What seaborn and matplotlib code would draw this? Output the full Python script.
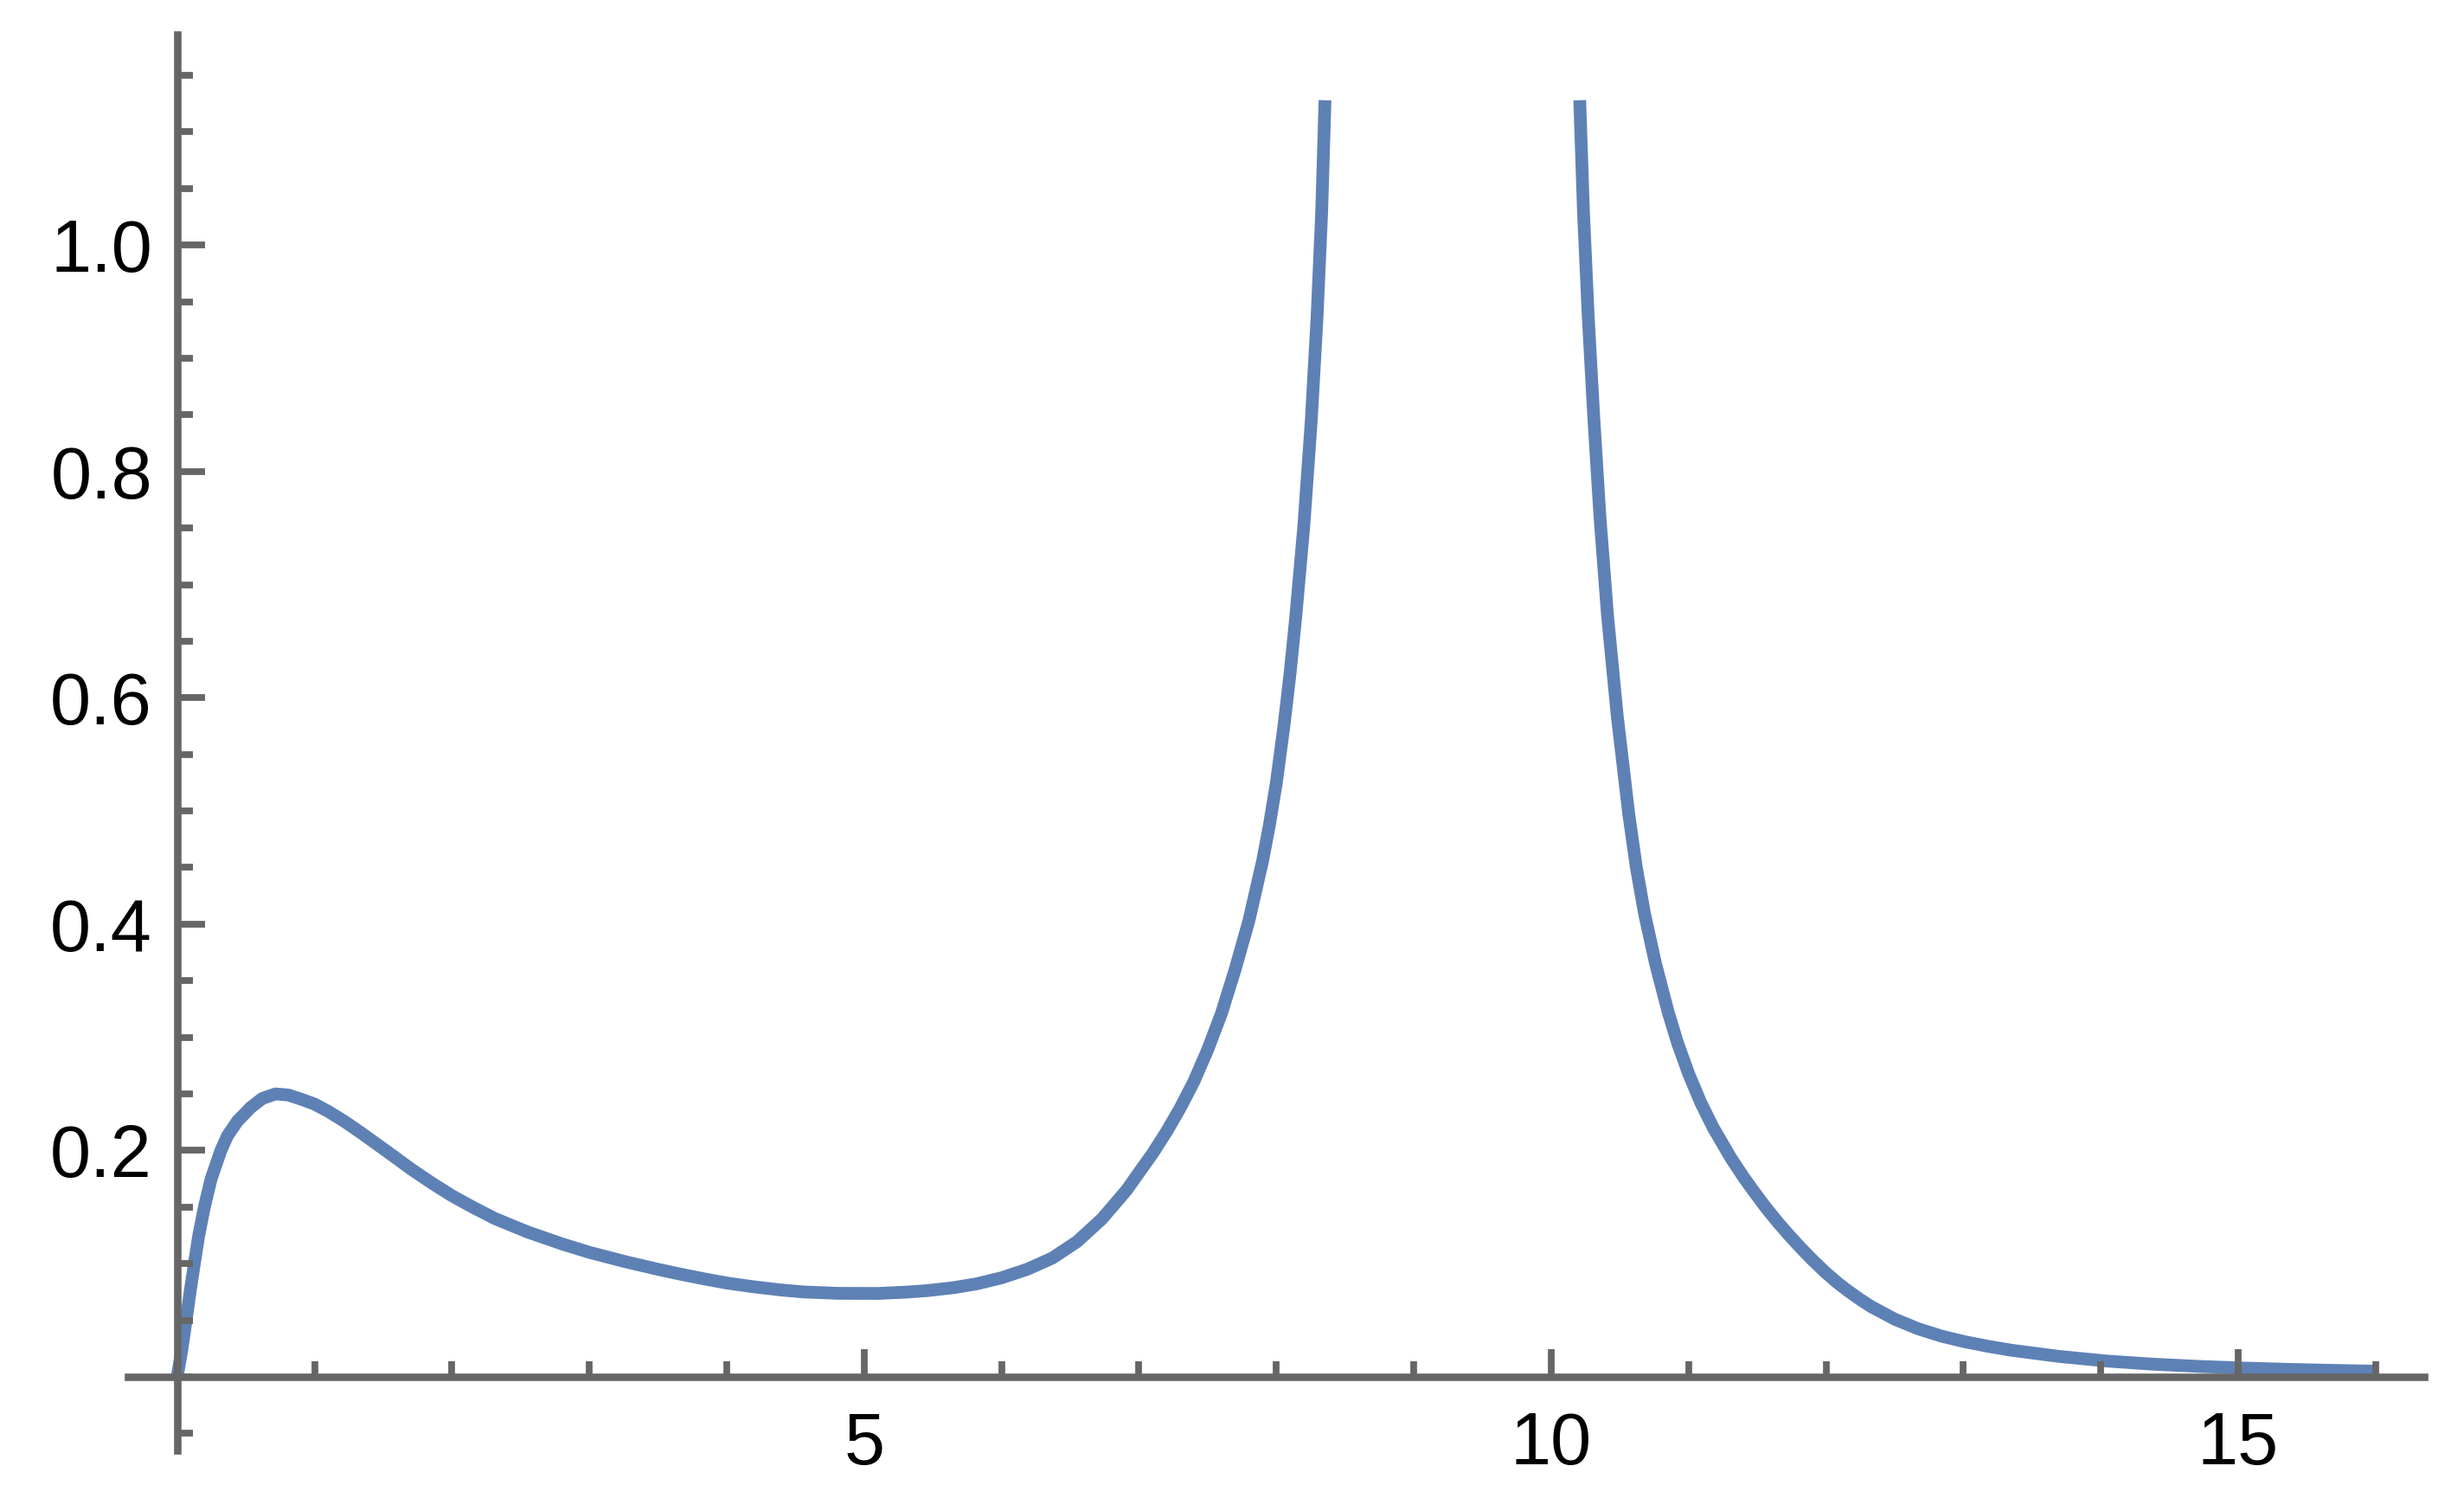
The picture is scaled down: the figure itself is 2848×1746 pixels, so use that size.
"""Resonance-style response curve, Mathematica look, drawn with seaborn."""
import matplotlib
matplotlib.use("Agg")  # non-interactive backend
import matplotlib.pyplot as plt
import pandas as pd
import seaborn as sns
from matplotlib.ticker import FixedLocator, MultipleLocator

# values (branch below the pole)
left_x = [0.0, 0.034, 0.065, 0.094, 0.125, 0.157, 0.198, 0.246, 0.318, 0.366,
          0.439, 0.535, 0.62, 0.716, 0.81, 0.91, 1.0, 1.10, 1.22, 1.34, 1.46,
          1.58, 1.70, 1.85, 2.0, 2.15, 2.31, 2.55, 2.8, 3.0, 3.27, 3.5, 3.66,
          3.83, 4.0, 4.2, 4.4, 4.56, 4.81, 5.1, 5.3, 5.46, 5.65, 5.82, 6.0,
          6.19, 6.37, 6.55, 6.73, 6.91, 7.0, 7.1, 7.2, 7.3, 7.4, 7.5, 7.6, 7.7,
          7.8, 7.9, 7.95, 8.0, 8.055, 8.1, 8.14, 8.2, 8.254, 8.296, 8.33, 8.354]
left_y = [0.0, 0.024, 0.050, 0.075, 0.100, 0.125, 0.150, 0.1745, 0.200, 0.213,
          0.226, 0.238, 0.246, 0.250, 0.249, 0.245, 0.241, 0.2345, 0.2255,
          0.2155, 0.205, 0.1945, 0.1838, 0.1715, 0.160, 0.150, 0.140, 0.128,
          0.1175, 0.110, 0.1015, 0.095, 0.0908, 0.0867, 0.0829, 0.0795, 0.0767,
          0.0750, 0.0738, 0.0737, 0.0748, 0.0762, 0.0788, 0.0822, 0.0875,
          0.0952, 0.105, 0.1195, 0.1395, 0.165, 0.1805, 0.1975, 0.2165, 0.2375,
          0.261, 0.289, 0.321, 0.360, 0.403, 0.456, 0.488, 0.525, 0.575, 0.622,
          0.670, 0.752, 0.845, 0.936, 1.03, 1.128]

# branch above the pole
right_x = [10.208, 10.235, 10.27, 10.31, 10.355, 10.41, 10.48, 10.565, 10.62,
           10.68, 10.76, 10.85, 10.92, 11.0, 11.09, 11.18, 11.31, 11.4, 11.48,
           11.56, 11.65, 11.74, 11.82, 11.9, 11.99, 12.08, 12.16, 12.25, 12.33,
           12.5, 12.67, 12.84, 13.01, 13.18, 13.35, 13.7, 14.04, 14.38, 14.72,
           15.06, 15.4, 15.7, 16.0]
right_y = [1.128, 1.03, 0.936, 0.848, 0.760, 0.673, 0.585, 0.497, 0.450,
           0.409, 0.365, 0.323, 0.295, 0.268, 0.242, 0.220, 0.193, 0.1765,
           0.163, 0.150, 0.1365, 0.124, 0.1135, 0.1035, 0.093, 0.0835, 0.076,
           0.0683, 0.062, 0.051, 0.0425, 0.036, 0.031, 0.027, 0.0235, 0.018,
           0.014, 0.0112, 0.0092, 0.0077, 0.0065, 0.0057, 0.005]

x_major = [5, 10, 15]
x_labels = ["5", "10", "15"]
y_major = [0.2, 0.4, 0.6, 0.8, 1.0]
y_labels = ["0.2", "0.4", "0.6", "0.8", "1.0"]

LINE = "#5e81b5"
AXIS = "#666666"

sns.set_theme(style="white")
plt.rcParams["font.family"] = ["Liberation Sans", "DejaVu Sans"]

df = pd.concat([
    pd.DataFrame({"x": left_x, "y": left_y, "branch": "left"}),
    pd.DataFrame({"x": right_x, "y": right_y, "branch": "right"}),
], ignore_index=True)

fig = plt.figure(figsize=(14.24, 8.73), dpi=200)
ax = fig.add_axes([0.052, 0.0401, 0.9319, 0.937])

sns.lineplot(data=df, x="x", y="y", units="branch", estimator=None, sort=False,
             color=LINE, linewidth=5.3, ax=ax)
for line in ax.lines:
    line.set_solid_capstyle("butt")
    line.set_solid_joinstyle("round")

ax.set(xlabel="", ylabel="")
ax.set_xlim(-0.357, 16.355)
ax.set_ylim(-0.065, 1.186)

for side in ("top", "right"):
    ax.spines[side].set_visible(False)
for side in ("left", "bottom"):
    ax.spines[side].set_position(("data", 0))
    ax.spines[side].set_color(AXIS)
    ax.spines[side].set_linewidth(3.1)
ax.set_axisbelow(False)

ax.xaxis.set_major_locator(FixedLocator(x_major))
ax.set_xticklabels(x_labels)
ax.xaxis.set_minor_locator(MultipleLocator(1))
ax.yaxis.set_major_locator(FixedLocator(y_major))
ax.set_yticklabels(y_labels)
ax.yaxis.set_minor_locator(MultipleLocator(0.05))

ax.tick_params(which="both", bottom=True, left=True, top=False, right=False,
               direction="in", color=AXIS, width=2.8,
               labelcolor="black", labelsize=30.5)
ax.tick_params(which="major", length=11.5)
ax.tick_params(which="minor", length=6.4)
ax.tick_params(axis="x", which="major", pad=14)
ax.tick_params(axis="y", which="major", pad=10.4)
ax.grid(False)

fig.savefig("out.png", dpi=200, facecolor="white")
plt.close(fig)
